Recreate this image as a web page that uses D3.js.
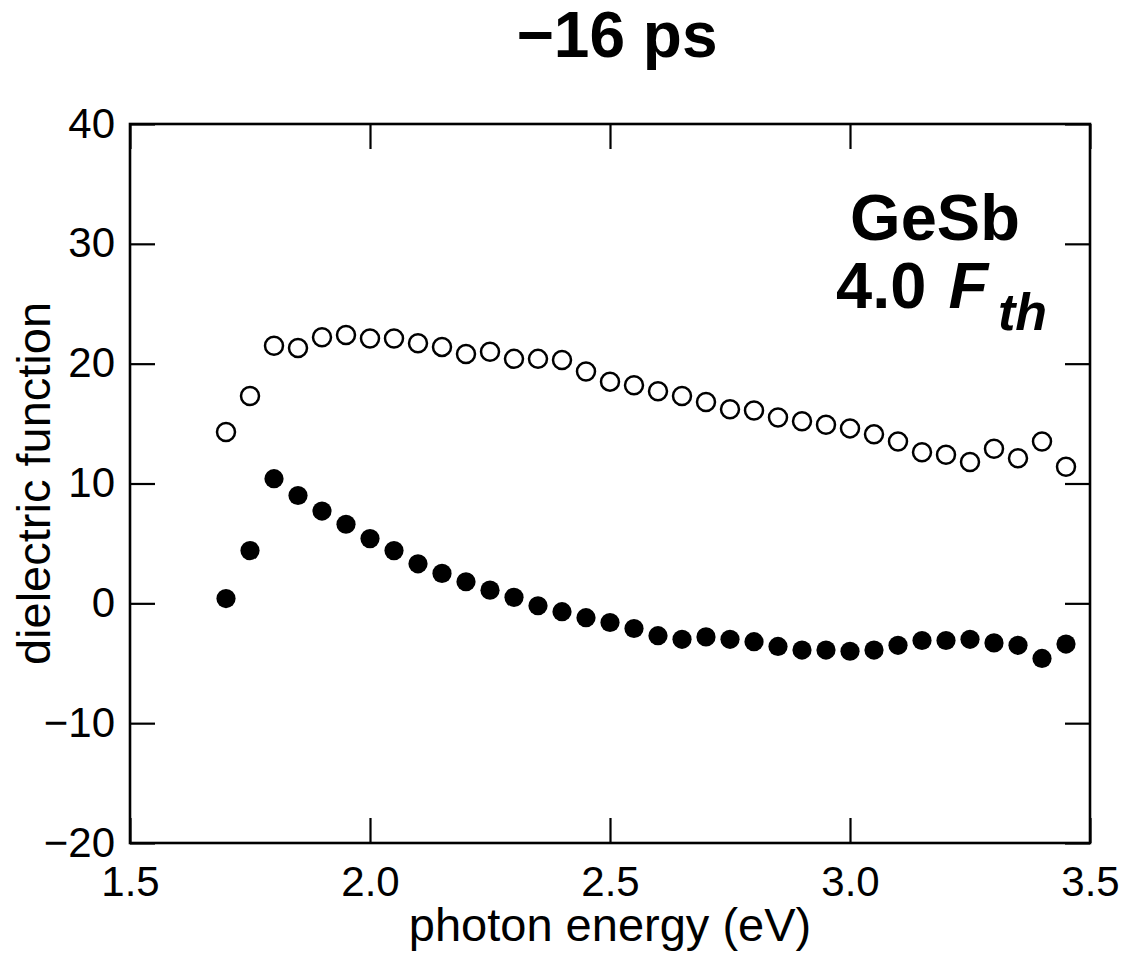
<!DOCTYPE html>
<html>
<head>
<meta charset="utf-8">
<script src="https://cdn.jsdelivr.net/npm/d3@7"></script>
<style>
  html, body { margin: 0; padding: 0; background: #fff; }
  svg { display: block; }
  text { font-family: "Liberation Sans", Arial, Helvetica, sans-serif; fill: #000; }
</style>
</head>
<body>
<svg id="chart" width="1127" height="956"></svg>
<script>
// Photon energy (eV) of each measurement
const energy = [1.70, 1.75, 1.80, 1.85, 1.90, 1.95, 2.00, 2.05, 2.10, 2.15,
                2.20, 2.25, 2.30, 2.35, 2.40, 2.45, 2.50, 2.55, 2.60, 2.65,
                2.70, 2.75, 2.80, 2.85, 2.90, 2.95, 3.00, 3.05, 3.10, 3.15,
                3.20, 3.25, 3.30, 3.35, 3.40, 3.45];

// Real part of the dielectric function (filled circles)
const epsReal = [0.4, 4.4, 10.4, 9.0, 7.7, 6.6, 5.4, 4.4, 3.3, 2.5,
                 1.8, 1.1, 0.5, -0.2, -0.7, -1.2, -1.6, -2.1, -2.7, -3.0,
                 -2.8, -3.0, -3.2, -3.6, -3.9, -3.9, -4.0, -3.9, -3.5, -3.1,
                 -3.1, -3.0, -3.3, -3.5, -4.6, -3.4];

// Imaginary part of the dielectric function (open circles)
const epsImag = [14.3, 17.3, 21.5, 21.3, 22.2, 22.4, 22.1, 22.1, 21.7, 21.4,
                 20.8, 21.0, 20.4, 20.4, 20.3, 19.35, 18.5, 18.2, 17.7, 17.3,
                 16.8, 16.2, 16.1, 15.5, 15.2, 14.9, 14.6, 14.1, 13.5, 12.6,
                 12.4, 11.8, 12.9, 12.1, 13.5, 11.4];

const xTicks = [1.5, 2.0, 2.5, 3.0, 3.5];
const yTicks = [-20, -10, 0, 10, 20, 30, 40];

const titleText = "\u221216 ps";
const sampleText = "GeSb";
const xLabel = "photon energy (eV)";
const yLabel = "dielectric function";

const svg = d3.select("#chart");
const plotL = 130, plotR = 1090, plotT = 124, plotB = 843;

const x = d3.scaleLinear().domain([1.5, 3.5]).range([plotL, plotR]);
const y = d3.scaleLinear().domain([-20, 40]).range([plotB, plotT]);

const tickLen = 25;
const minusFmt = v => (v < 0 ? "\u2212" + Math.abs(v) : String(v));

// Axes with inward ticks on all four sides
const axisBottom = d3.axisBottom(x).tickValues(xTicks).tickSizeInner(-tickLen).tickSizeOuter(0).tickFormat(d3.format(".1f"));
const axisTop = d3.axisTop(x).tickValues(xTicks).tickSizeInner(-tickLen).tickSizeOuter(0).tickFormat("");
const axisLeft = d3.axisLeft(y).tickValues(yTicks).tickSizeInner(-tickLen).tickSizeOuter(0).tickFormat(minusFmt);
const axisRight = d3.axisRight(y).tickValues(yTicks).tickSizeInner(-tickLen).tickSizeOuter(0).tickFormat("");

function styleAxis(g) {
  g.select(".domain").remove();
  g.selectAll(".tick line").attr("stroke", "#000").attr("stroke-width", 2.2);
  g.selectAll(".tick text").attr("font-family", "Liberation Sans, Arial, sans-serif")
    .attr("font-size", 42).attr("fill", "#000");
}

const gB = svg.append("g").attr("transform", `translate(0,${plotB})`).call(axisBottom).call(styleAxis);
gB.selectAll(".tick text").attr("dy", null).attr("y", 53);
svg.append("g").attr("transform", `translate(0,${plotT})`).call(axisTop).call(styleAxis);
const gL = svg.append("g").attr("transform", `translate(${plotL},0)`).call(axisLeft).call(styleAxis);
gL.selectAll(".tick text").attr("dy", null).attr("y", 13).attr("x", -15);
svg.append("g").attr("transform", `translate(${plotR},0)`).call(axisRight).call(styleAxis);

// Frame
svg.append("rect")
  .attr("x", plotL).attr("y", plotT)
  .attr("width", plotR - plotL).attr("height", plotB - plotT)
  .attr("fill", "none").attr("stroke", "#000").attr("stroke-width", 2.6);

// Data
const pts = energy.map((e, i) => ({ e, re: epsReal[i], im: epsImag[i] }));

svg.append("g").selectAll("circle.im").data(pts).join("circle")
  .attr("class", "im")
  .attr("cx", d => x(d.e)).attr("cy", d => y(d.im))
  .attr("r", 9).attr("fill", "#fff").attr("stroke", "#000").attr("stroke-width", 2.5);

svg.append("g").selectAll("circle.re").data(pts).join("circle")
  .attr("class", "re")
  .attr("cx", d => x(d.e)).attr("cy", d => y(d.re))
  .attr("r", 9.6).attr("fill", "#000");

// Title
svg.append("text")
  .attr("x", 617).attr("y", 57)
  .attr("text-anchor", "middle")
  .attr("font-size", 64).attr("font-weight", "bold")
  .text(titleText);

// Sample annotation
svg.append("text")
  .attr("x", 935).attr("y", 240)
  .attr("text-anchor", "middle")
  .attr("font-size", 65).attr("font-weight", "bold")
  .text(sampleText);

const fl = svg.append("text")
  .attr("x", 836).attr("y", 308)
  .attr("font-size", 65).attr("font-weight", "bold");
fl.append("tspan").text("4.0 ");
fl.append("tspan").attr("dx", 4).attr("font-style", "italic").text("F");
fl.append("tspan").attr("x", 998).attr("y", 330)
  .attr("font-size", 52).attr("font-style", "italic").text("th");

// Axis titles
svg.append("text")
  .attr("x", (plotL + plotR) / 2).attr("y", 941)
  .attr("text-anchor", "middle")
  .attr("font-size", 47)
  .text(xLabel);

svg.append("text")
  .attr("transform", `translate(50,${(plotT + plotB) / 2}) rotate(-90)`)
  .attr("text-anchor", "middle")
  .attr("font-size", 47)
  .text(yLabel);
</script>
</body>
</html>
